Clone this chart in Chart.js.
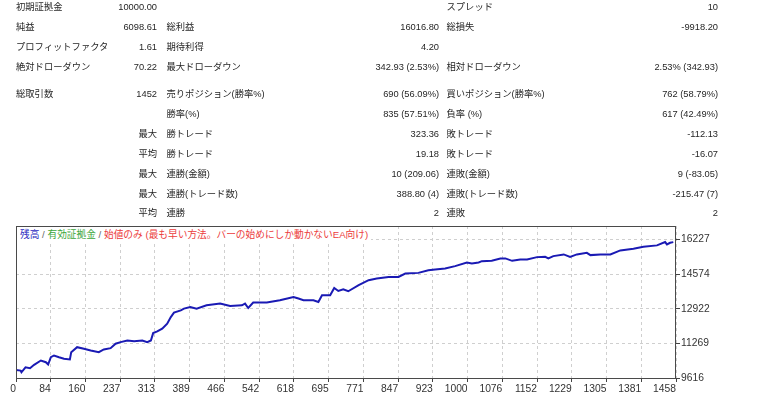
<!DOCTYPE html>
<html>
<head>
<meta charset="utf-8">
<script src="https://cdn.jsdelivr.net/npm/chart.js@4.4.1/dist/chart.umd.min.js"></script>
<style>
  html, body { margin: 0; padding: 0; background: #fff; }
  body { width: 768px; height: 399px; position: relative; overflow: hidden;
         font-family: "Liberation Sans", "Noto Sans CJK JP", sans-serif; font-size: 9.3px; color: #262626; }
  #chartBox { position: absolute; left: 0; top: 0; width: 768px; height: 399px; }
  .cell { position: absolute; height: 12px; line-height: 12px; white-space: nowrap; }
  .val { text-align: right; }
  #legend { position: absolute; left: 17px; top: 227px; height: 15px; line-height: 15px;
            padding: 0 3px; background: #fff; font-size: 9.7px; white-space: nowrap;
            font-family: "Liberation Sans", "Noto Sans CJK JP", sans-serif; }
</style>
</head>
<body>
<div id="chartBox"><canvas id="c" width="768" height="399"></canvas></div>
<div id="table"></div>
<div id="legend"><span style="color:#2a2ac0">残高</span><span style="color:#666"> / </span><span style="color:#3aa63a">有効証拠金</span><span style="color:#666"> / </span><span style="color:#ec3c3c">始値のみ (最も早い方法。バーの始めにしか動かないEA向け)</span></div>
<script>
// ---- report table text ----
const colA_labels = ['初期証拠金','純益','プロフィットファクタ','絶対ドローダウン','総取引数','','','','','',''];
const colA_values = ['10000.00','6098.61','1.61','70.22','1452','','最大','平均','最大','最大','平均'];
const colB_labels = ['','総利益','期待利得','最大ドローダウン','売りポジション(勝率%)','勝率(%)','勝トレード','勝トレード','連勝(金額)','連勝(トレード数)','連勝'];
const colB_values = ['','16016.80','4.20','342.93 (2.53%)','690 (56.09%)','835 (57.51%)','323.36','19.18','10 (209.06)','388.80 (4)','2'];
const colC_labels = ['スプレッド','総損失','','相対ドローダウン','買いポジション(勝率%)','負率 (%)','敗トレード','敗トレード','連敗(金額)','連敗(トレード数)','連敗'];
const colC_values = ['10','-9918.20','','2.53% (342.93)','762 (58.79%)','617 (42.49%)','-112.13','-16.07','9 (-83.05)','-215.47 (7)','2'];

// ---- chart data ----
const tradeIdx = [0,10,12,21,31,40,55,66,71,77,84,95,106,119,122,135,150,165,183,194,209,220,231,246,261,279,290,298,303,312,323,334,342,349,364,371,385,399,421,451,473,499,506,513,524,554,583,613,624,635,657,668,676,694,703,712,723,734,757,779,797,823,845,860,889,911,926,948,970,996,1007,1022,1029,1051,1070,1081,1096,1114,1129,1151,1169,1176,1187,1210,1224,1239,1261,1269,1291,1313,1335,1364,1386,1416,1434,1438,1445,1452];
const balance = [10000,9971,9890,10129,10081,10244,10450,10369,10259,10608,10690,10608,10532,10498,10848,11087,11011,10929,10848,10977,11039,11250,11327,11408,11375,11408,11327,11408,11758,11839,11969,12208,12524,12735,12845,12927,13003,12927,13085,13166,13051,13085,13166,12955,13214,13214,13324,13482,13406,13324,13324,13243,13564,13564,13913,13770,13851,13755,14043,14282,14364,14440,14440,14603,14632,14761,14795,14843,14953,15130,15082,15130,15192,15207,15322,15322,15207,15274,15274,15384,15398,15322,15432,15513,15398,15513,15590,15480,15513,15513,15705,15782,15877,15944,16102,15992,16069,16099];
const xTickLabels = ['0','84','160','237','313','389','466','542','618','695','771','847','923','1000','1076','1152','1229','1305','1381','1458'];
const yTickValues = [9616, 11269, 12922, 14574, 16227];
const xMax = 1458;
const yMin = 9616;
const yMax = 16869;

// ---- build table ----
const rowY = [7, 27, 47, 67, 94, 114, 134, 154, 174, 194, 213];
const table = document.getElementById('table');
function addCell(text, left, rightEdge, y) {
  if (!text) return;
  const d = document.createElement('div');
  d.className = 'cell' + (rightEdge !== null ? ' val' : '');
  d.textContent = text;
  d.style.top = (y - 6) + 'px';
  if (rightEdge !== null) d.style.right = (768 - rightEdge) + 'px';
  else d.style.left = left + 'px';
  table.appendChild(d);
}
for (let i = 0; i < rowY.length; i++) {
  const y = rowY[i];
  addCell(colA_labels[i], 16, null, y);
  addCell(colA_values[i], 0, 157, y);
  addCell(colB_labels[i], 166.5, null, y);
  addCell(colB_values[i], 0, 439, y);
  addCell(colC_labels[i], 446.5, null, y);
  addCell(colC_values[i], 0, 718, y);
}

// ---- chart ----
const tickFont = { family: '"Liberation Sans", "DejaVu Sans", sans-serif', size: 10.3 };
const framePlugin = {
  id: 'frame',
  afterDraw(chart) {
    const { ctx, chartArea: a } = chart;
    ctx.save();
    ctx.strokeStyle = '#4a4a4a';
    ctx.lineWidth = 1;
    ctx.strokeRect(Math.round(a.left) + 0.5, Math.round(a.top) + 0.5,
                   Math.round(a.right - a.left) - 1, Math.round(a.bottom - a.top));
    ctx.restore();
  }
};

new Chart(document.getElementById('c'), {
  type: 'line',
  data: {
    datasets: [{
      label: '残高',
      data: tradeIdx.map((t, i) => ({ x: t, y: balance[i] })),
      borderColor: '#1a1ab4',
      borderWidth: 2,
      pointRadius: 0,
      tension: 0,
      fill: false
    }]
  },
  options: {
    responsive: false,
    animation: false,
    layout: { padding: { left: 16, top: 226, right: 0, bottom: 0 } },
    plugins: { legend: { display: false }, tooltip: { enabled: false } },
    scales: {
      x: {
        type: 'linear',
        min: 0,
        max: xMax,
        afterBuildTicks: (s) => { s.ticks = xTickLabels.map((l, i) => ({ value: i * xMax / (xTickLabels.length - 1) })); },
        afterFit: (s) => { s.height = 21; },
        ticks: {
          autoSkip: false, maxRotation: 0, minRotation: 0, align: 'end',
          padding: 1, color: '#333', font: tickFont,
          callback: (v, i) => xTickLabels[i]
        },
        grid: { color: '#cfcfcf', lineWidth: 1, drawTicks: true, tickLength: 4, tickColor: '#444', tickBorderDash: [] },
        border: { display: false, dash: [3, 3] }
      },
      y: {
        type: 'linear',
        position: 'right',
        min: yMin,
        max: yMax,
        afterBuildTicks: (s) => { s.ticks = yTickValues.map(v => ({ value: v })); },
        afterFit: (s) => { s.width = 92; },
        ticks: {
          padding: 1, color: '#333', font: tickFont,
          callback: (v) => String(v)
        },
        grid: { color: '#cfcfcf', lineWidth: 1, drawTicks: true, tickLength: 4, tickColor: '#444', tickBorderDash: [] },
        border: { display: false, dash: [3, 3] }
      }
    }
  },
  plugins: [framePlugin]
});
</script>
</body>
</html>
